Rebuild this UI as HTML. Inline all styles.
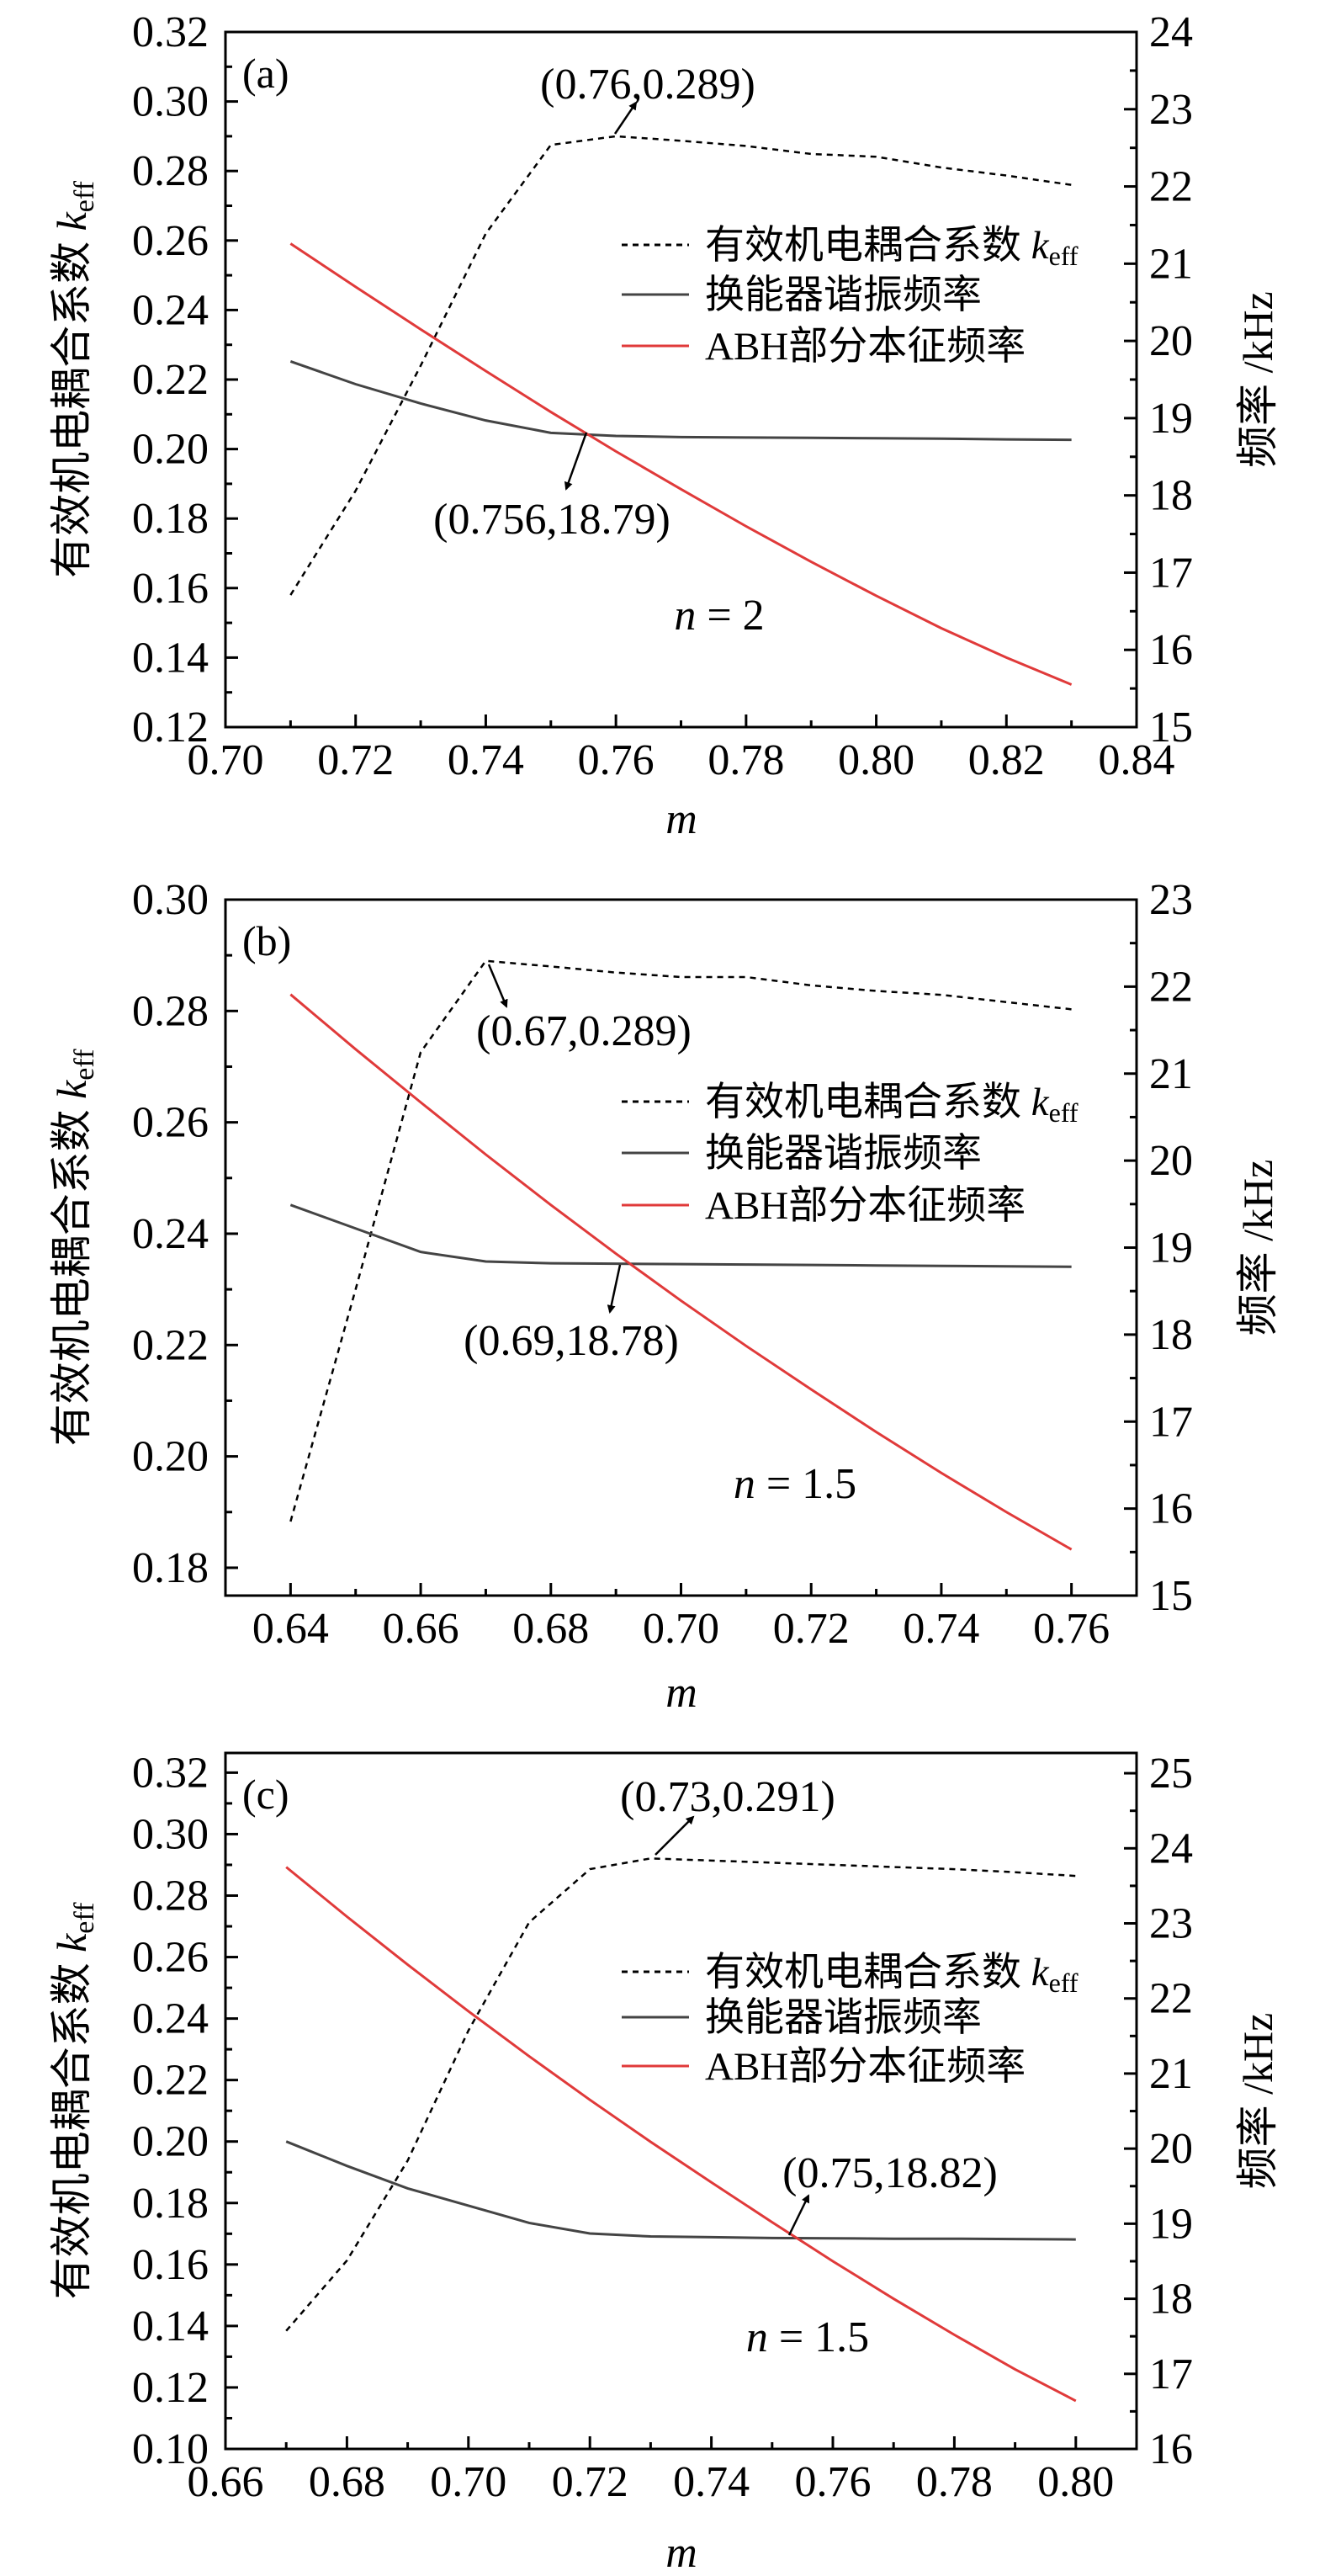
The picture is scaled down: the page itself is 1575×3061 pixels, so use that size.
<!DOCTYPE html>
<html><head><meta charset="utf-8">
<style>
html,body{margin:0;padding:0;background:#fff;}
svg{display:block;}
text{font-family:"Liberation Serif","Noto Serif CJK SC","Noto Sans CJK SC",serif;fill:#000;}
.cjk{font-family:"Liberation Serif","Noto Sans CJK SC",sans-serif;}
</style></head>
<body>
<svg id="fig" width="1575" height="3061" viewBox="0 0 1575 3061" xmlns="http://www.w3.org/2000/svg">
<defs><marker id="ah" markerWidth="10" markerHeight="10" refX="8" refY="5" orient="auto" markerUnits="userSpaceOnUse"><path d="M0,0 L10,5 L0,10 z" fill="#000"/></marker></defs>
</svg>
<script>
// ---- Panel (a) data ----
const mA = [0.71,0.72,0.73,0.74,0.75,0.76,0.77,0.78,0.79,0.80,0.81,0.82,0.83];
const keffA = [0.158,0.188,0.224,0.262,0.2875,0.290,0.2887,0.2872,0.2849,0.2841,0.281,0.2787,0.276];
const transA = [19.735,19.44,19.19,18.97,18.81,18.77,18.755,18.75,18.745,18.74,18.735,18.725,18.72];
const abhA = [21.26,20.70,20.15,19.61,19.08,18.57,18.08,17.60,17.14,16.70,16.28,15.90,15.55];
const xTicksA = ["0.70","0.72","0.74","0.76","0.78","0.80","0.82","0.84"];
const yTicksA = ["0.12","0.14","0.16","0.18","0.20","0.22","0.24","0.26","0.28","0.30","0.32"];
const rTicksA = ["15","16","17","18","19","20","21","22","23","24"];
// ---- Panel (b) data ----
const mB = [0.64,0.65,0.66,0.67,0.68,0.69,0.70,0.71,0.72,0.73,0.74,0.75,0.76];
const keffB = [0.1883,0.230,0.2726,0.289,0.288,0.2869,0.2861,0.2861,0.2846,0.2836,0.2829,0.2816,0.2803];
const transB = [19.49,19.22,18.95,18.84,18.82,18.815,18.81,18.805,18.80,18.795,18.79,18.785,18.78];
const abhB = [21.91,21.28,20.67,20.07,19.49,18.93,18.39,17.87,17.37,16.88,16.41,15.96,15.53];
const xTicksB = ["0.64","0.66","0.68","0.70","0.72","0.74","0.76"];
const yTicksB = ["0.18","0.20","0.22","0.24","0.26","0.28","0.30"];
const rTicksB = ["15","16","17","18","19","20","21","22","23"];
// ---- Panel (c) data ----
const mC = [0.67,0.68,0.69,0.70,0.71,0.72,0.73,0.74,0.75,0.76,0.77,0.78,0.79,0.80];
const keffC = [0.1384,0.1613,0.1938,0.2361,0.2713,0.2886,0.2921,0.2914,0.2907,0.2900,0.2893,0.2886,0.2876,0.2864];
const transC = [20.095,19.77,19.47,19.24,19.01,18.87,18.83,18.82,18.81,18.805,18.80,18.80,18.795,18.79];
const abhC = [23.75,23.09,22.45,21.83,21.23,20.65,20.09,19.55,19.02,18.50,18.00,17.52,17.06,16.64];
const xTicksC = ["0.66","0.68","0.70","0.72","0.74","0.76","0.78","0.80"];
const yTicksC = ["0.10","0.12","0.14","0.16","0.18","0.20","0.22","0.24","0.26","0.28","0.30","0.32"];
const rTicksC = ["16","17","18","19","20","21","22","23","24","25"];

const NS="http://www.w3.org/2000/svg";
const svg=document.getElementById('fig');
function mk(tag,attrs,parent){const e=document.createElementNS(NS,tag);for(const k in attrs)e.setAttribute(k,attrs[k]);(parent||svg).appendChild(e);return e;}

function panel(P){
  const g=mk('g',{});
  
  
  const L=268,R=1351,T=P.top,B=P.bottom;
  const sx=v=>L+(v-P.xmin)/(P.xmax-P.xmin)*(R-L);
  const sy=v=>B-(v-P.ymin)/(P.ymax-P.ymin)*(B-T);
  const sr=v=>B-(v-P.rmin)/(P.rmax-P.rmin)*(B-T);
  P.xt.forEach((t,i)=>{const v=parseFloat(t),x=sx(v);
    mk('line',{x1:x,y1:B,x2:x,y2:B-15,stroke:'#000','stroke-width':3},g);
    const mv=v+0.01; if(mv<P.xmax-1e-9){const xm=sx(mv);mk('line',{x1:xm,y1:B,x2:xm,y2:B-8,stroke:'#000','stroke-width':3},g);}
    const tx=mk('text',{x:x,y:B+56,'font-size':52,'text-anchor':'middle'},g);tx.textContent=t;
    
    
  });
  P.yt.forEach(t=>{const v=parseFloat(t),y=sy(v);
    mk('line',{x1:L,y1:y,x2:L+15,y2:y,stroke:'#000','stroke-width':3},g);
    const mv=v+0.01; if(mv<P.ymax-1e-9){const ym=sy(mv);mk('line',{x1:L,y1:ym,x2:L+8,y2:ym,stroke:'#000','stroke-width':3},g);}
    const tx=mk('text',{x:248,y:y+17,'font-size':52,'text-anchor':'end'},g);tx.textContent=t;
    
    
  });
  P.rt.forEach(t=>{const v=parseFloat(t),y=sr(v);
    mk('line',{x1:R,y1:y,x2:R-15,y2:y,stroke:'#000','stroke-width':3},g);
    const mv=v+0.5; if(mv<P.rmax-1e-9){const ym=sr(mv);mk('line',{x1:R,y1:ym,x2:R-8,y2:ym,stroke:'#000','stroke-width':3},g);}
    const tx=mk('text',{x:1366,y:y+17,'font-size':52},g);tx.textContent=t;
    
    
  });
  const box=mk('rect',{x:L,y:T,width:R-L,height:B-T,fill:'none',stroke:'#000','stroke-width':3},g);
  
  
  const pk=mk('polyline',{points:P.m.map((m,i)=>sx(m)+','+sy(P.keff[i])).join(' '),fill:'none',stroke:'#000','stroke-width':2.5,'stroke-dasharray':'7,6'},g);
  
  
  const pt=mk('polyline',{points:P.m.map((m,i)=>sx(m)+','+sr(P.trans[i])).join(' '),fill:'none',stroke:'#444','stroke-width':3},g);
  
  
  const pa=mk('polyline',{points:P.m.map((m,i)=>sx(m)+','+sr(P.abh[i])).join(' '),fill:'none',stroke:'#e03a3a','stroke-width':3,'stroke-linejoin':'round'},g);
  
  
  const lg=mk('g',{},g);
  
  
  const rows=[['有效机电耦合系数 ','#000','7,6'],['换能器谐振频率','#444',''],['ABH部分本征频率','#e03a3a','']];
  rows.forEach((r,i)=>{const y=P.leg[i];
    const ln=mk('line',{x1:739,y1:y,x2:819,y2:y,stroke:r[1],'stroke-width':3},lg);if(r[2])ln.setAttribute('stroke-dasharray',r[2]);
    const tx=mk('text',{x:838,y:y+16,'font-size':47,class:'cjk'},lg);tx.textContent=r[0];
    
    
    if(i===0){const k=mk('tspan',{'font-style':'italic'},tx);k.textContent='k';const s=mk('tspan',{'font-size':32,dy:8},tx);s.textContent='eff';}
  });
  const lb=mk('text',{x:288,y:T+66,'font-size':50},g);lb.textContent=P.label;
  
  
  const nt=mk('text',{x:P.nx,y:P.ny+17,'font-size':52,'text-anchor':'middle'},g);
  const ni=mk('tspan',{'font-style':'italic'},nt);ni.textContent='n';
  const nr=mk('tspan',{},nt);nr.textContent=' = '+P.nval;
  
  
  P.ann.forEach(a=>{
    const ar=mk('line',{x1:a[2],y1:a[3],x2:a[4],y2:a[5],stroke:'#000','stroke-width':2.5,'marker-end':'url(#ah)'},g);
    
    
    const tx=mk('text',{x:a[0],y:a[1]+18,'font-size':52,'text-anchor':'middle'},g);tx.textContent=a[6];
    
    
  });
  const xm=mk('text',{x:810,y:P.mY,'font-size':52,'font-style':'italic','text-anchor':'middle'},g);xm.textContent='m';
  
  
  const cy=(T+B)/2;
  const yl=mk('text',{x:0,y:0,'font-size':50,'text-anchor':'middle',class:'cjk',transform:`translate(102 ${cy}) rotate(-90)`},g);
  yl.textContent='有效机电耦合系数 ';
  const k=mk('tspan',{'font-style':'italic'},yl);k.textContent='k';const s=mk('tspan',{'font-size':34,dy:9},yl);s.textContent='eff';
  
  
  const rl=mk('text',{x:0,y:0,'font-size':50,'text-anchor':'middle',class:'cjk',transform:`translate(1512 ${cy}) rotate(-90)`},g);
  rl.textContent='频率 /kHz';
  
  
}

panel({name:'panel-a',top:38,bottom:864,xmin:0.70,xmax:0.84,ymin:0.12,ymax:0.32,rmin:15,rmax:24,
  m:mA,keff:keffA,trans:transA,abh:abhA,xt:xTicksA,yt:yTicksA,rt:rTicksA,label:'(a)',
  leg:[291,350,411],nx:855,ny:731,nval:'2',mY:990,
  ann:[[770,99,731,159,756,122,'(0.76,0.289)'],[656,616,697,514,673,581,'(0.756,18.79)']]});
panel({name:'panel-b',top:1069,bottom:1896,xmin:0.63,xmax:0.77,ymin:0.175,ymax:0.30,rmin:15,rmax:23,
  m:mB,keff:keffB,trans:transB,abh:abhB,xt:xTicksB,yt:yTicksB,rt:rTicksB,label:'(b)',
  leg:[1309,1370,1432],nx:945,ny:1763,nval:'1.5',mY:2028,
  ann:[[694,1224,581,1146,602,1196,'(0.67,0.289)'],[679,1592,737,1503,725,1559,'(0.69,18.78)']]});
panel({name:'panel-c',top:2083,bottom:2910,xmin:0.66,xmax:0.81,ymin:0.10,ymax:0.3264,rmin:16,rmax:25.27,
  m:mC,keff:keffC,trans:transC,abh:abhC,xt:xTicksC,yt:yTicksC,rt:rTicksC,label:'(c)',
  leg:[2343,2397,2455],nx:960,ny:2777,nval:'1.5',mY:3050,
  ann:[[865,2134,779,2204,824,2159,'(0.73,0.291)'],[1058,2581,938,2656,961,2609,'(0.75,18.82)']]});
</script>
</body></html>
